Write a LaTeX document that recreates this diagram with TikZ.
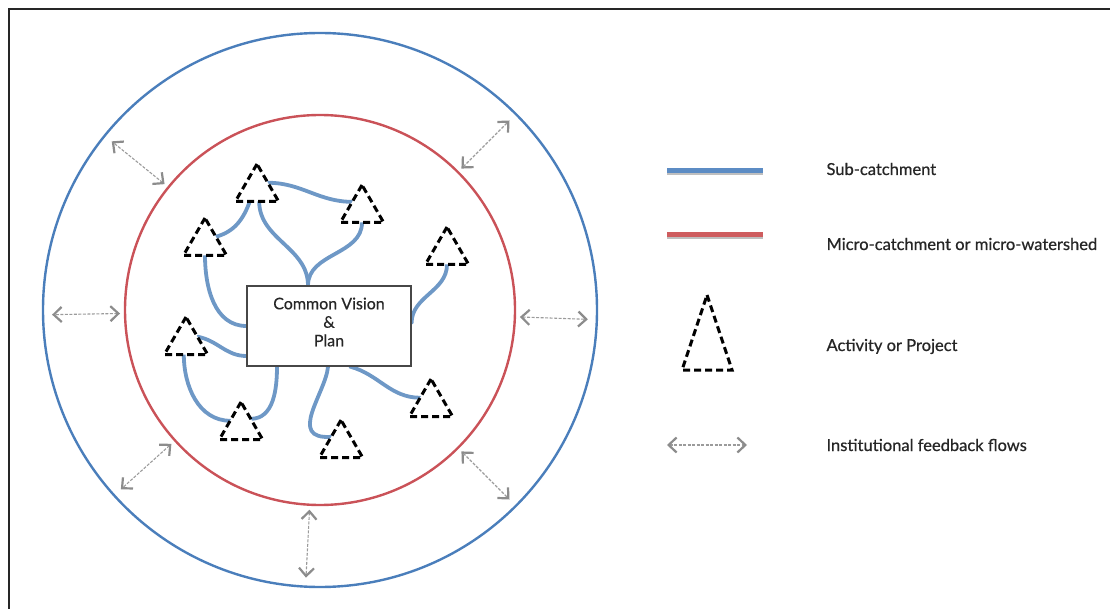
\documentclass[tikz,border=0pt]{standalone}
\usepackage{fontspec}
\setmainfont{Lato}
\newfontfamily\legendfont{Lato}[FakeBold=0.7]
\newfontfamily\boxfont{Lato}[FakeBold=0.35]
\usetikzlibrary{shapes.geometric,arrows.meta,calc}
\definecolor{subblue}{RGB}{74,126,187}
\definecolor{microred}{RGB}{202,82,88}
\definecolor{linkblue}{RGB}{110,152,198}
\definecolor{legblue}{RGB}{92,140,196}
\definecolor{legred}{RGB}{206,92,94}
\definecolor{flowgray}{RGB}{155,155,155}
\definecolor{tipgray}{RGB}{140,140,140}
\definecolor{ink}{RGB}{38,38,38}
\pgfdeclarelayer{links}
\pgfsetlayers{links,main}

\begin{document}
\begin{tikzpicture}[x=1pt,y=1pt,
  ring/.style={circle, draw, line width=2.4pt, inner sep=0pt, outer sep=0pt},
  activity/.style={regular polygon, regular polygon sides=3, draw=black, fill=white,
    line width=3pt, dash pattern=on 7pt off 4pt, minimum size=50pt,
    inner sep=0pt, outer sep=0pt},
  link/.style={draw=linkblue, line width=3.8pt, line cap=round},
  barb/.tip={Straight Barb[length=8pt,width=15pt,line width=2.2pt,color=tipgray]},
  flow/.style={draw=flowgray, line width=1.1pt, dash pattern=on 3pt off 1.5pt, barb-barb},
  legendtext/.style={anchor=base west, text=ink, font=\legendfont\fontsize{16.5}{20}\selectfont},
]
\useasboundingbox (0,0) rectangle (1110,-609);

% frame edges
\draw[line width=2.6pt, draw=black!85] (9,-609) -- (9,-9) -- (1110,-9);

% sub-catchment and micro-catchment rings
\coordinate (ctr) at (320,-310);
\node[ring, draw=subblue, minimum size=554pt] (sub) at (ctr) {};
\node[ring, draw=microred, minimum size=390pt] (micro) at (ctr) {};

% institutional feedback flows between the rings
\foreach \a in {141,45.5,181.5,-2,267,222.5,-45.6}
  \draw[flow, shorten <=5pt, shorten >=9pt] (micro.\a) -- (sub.\a);

% activities / projects
\node[activity] (t1) at (257,-189) {};
\node[activity] (t2) at (362,-210) {};
\node[activity] (t3) at (205,-243) {};
\node[activity] (t4) at (447,-252) {};
\node[activity] (t5) at (186,-342) {};
\node[activity] (t6) at (241,-427) {};
\node[activity] (t7) at (341,-445) {};
\node[activity] (t8) at (431,-404) {};

% common vision box
\node[draw=ink!85, line width=1.2pt, fill=white, minimum width=164pt,
  minimum height=80pt, inner sep=0pt] (box) at (329,-326) {};
\node[align=center, text=ink, font=\boxfont\fontsize{16}{18.5}\selectfont]
  (boxtext) at ([yshift=4pt]box.center) {Common Vision\\\&\\Plan};

% sub-catchment links
\begin{pgfonlayer}{links}
\draw[link] (t1.30) to[out=0,in=180] (t2.140);
\draw[link] (t1.240) to[out=250,in=15] (t3.30);
\draw[link] (t1.-80) to[out=-90,in=90] ([xshift=-21pt]box.north);
\draw[link] (t2.south) to[out=-90,in=90] ([xshift=-21pt]box.north);
\draw[link] (t3.south) to[out=-90,in=180] (box.west);
\draw[link] (t4.south) to[out=-90,in=90] ([yshift=3pt]box.east);
\draw[link] (t5.25) to[out=-10,in=180] ([yshift=-30pt]box.west);
\draw[link] (t5.-100) to[out=-90,in=180] (t6.150);
\draw[link] ([xshift=-52pt]box.south) to[out=-90,in=0] (t6.40);
\draw[link] ([xshift=-1pt]box.south) .. controls +(-2,-26) and +(-45,-3) .. (t7.140);
\draw[link] ([xshift=21pt]box.south) to[out=-15,in=180] (t8.150);
\end{pgfonlayer}

% legend
\coordinate (lb1) at (667,-171);  \coordinate (lb2) at (763,-171);
\coordinate (lr1) at (667,-235);  \coordinate (lr2) at (763,-235);
\draw[line width=5pt, draw=black!25] ([yshift=-1.5pt]lb1) -- ([yshift=-1.5pt]lb2);
\draw[line width=5pt, draw=legblue] (lb1) -- (lb2);
\draw[line width=5pt, draw=black!25] ([yshift=-1.5pt]lr1) -- ([yshift=-1.5pt]lr2);
\draw[line width=5pt, draw=legred] (lr1) -- (lr2);
\draw[line width=3pt, dash pattern=on 7pt off 4pt]
  (707,-295) -- (732,-370) -- (682,-370) -- cycle;
\coordinate (fl1) at (667,-445);  \coordinate (fl2) at (747,-445);
\draw[flow] (fl1) -- (fl2);

\node[legendtext] (l1) at (823,-175) {Sub-catchment};
\node[legendtext] (l2) at (823,-250) {Micro-catchment or micro-watershed};
\node[legendtext] (l3) at (823,-351) {Activity or Project};
\node[legendtext] (l4) at (823,-451) {Institutional feedback flows};
\end{tikzpicture}
\end{document}
